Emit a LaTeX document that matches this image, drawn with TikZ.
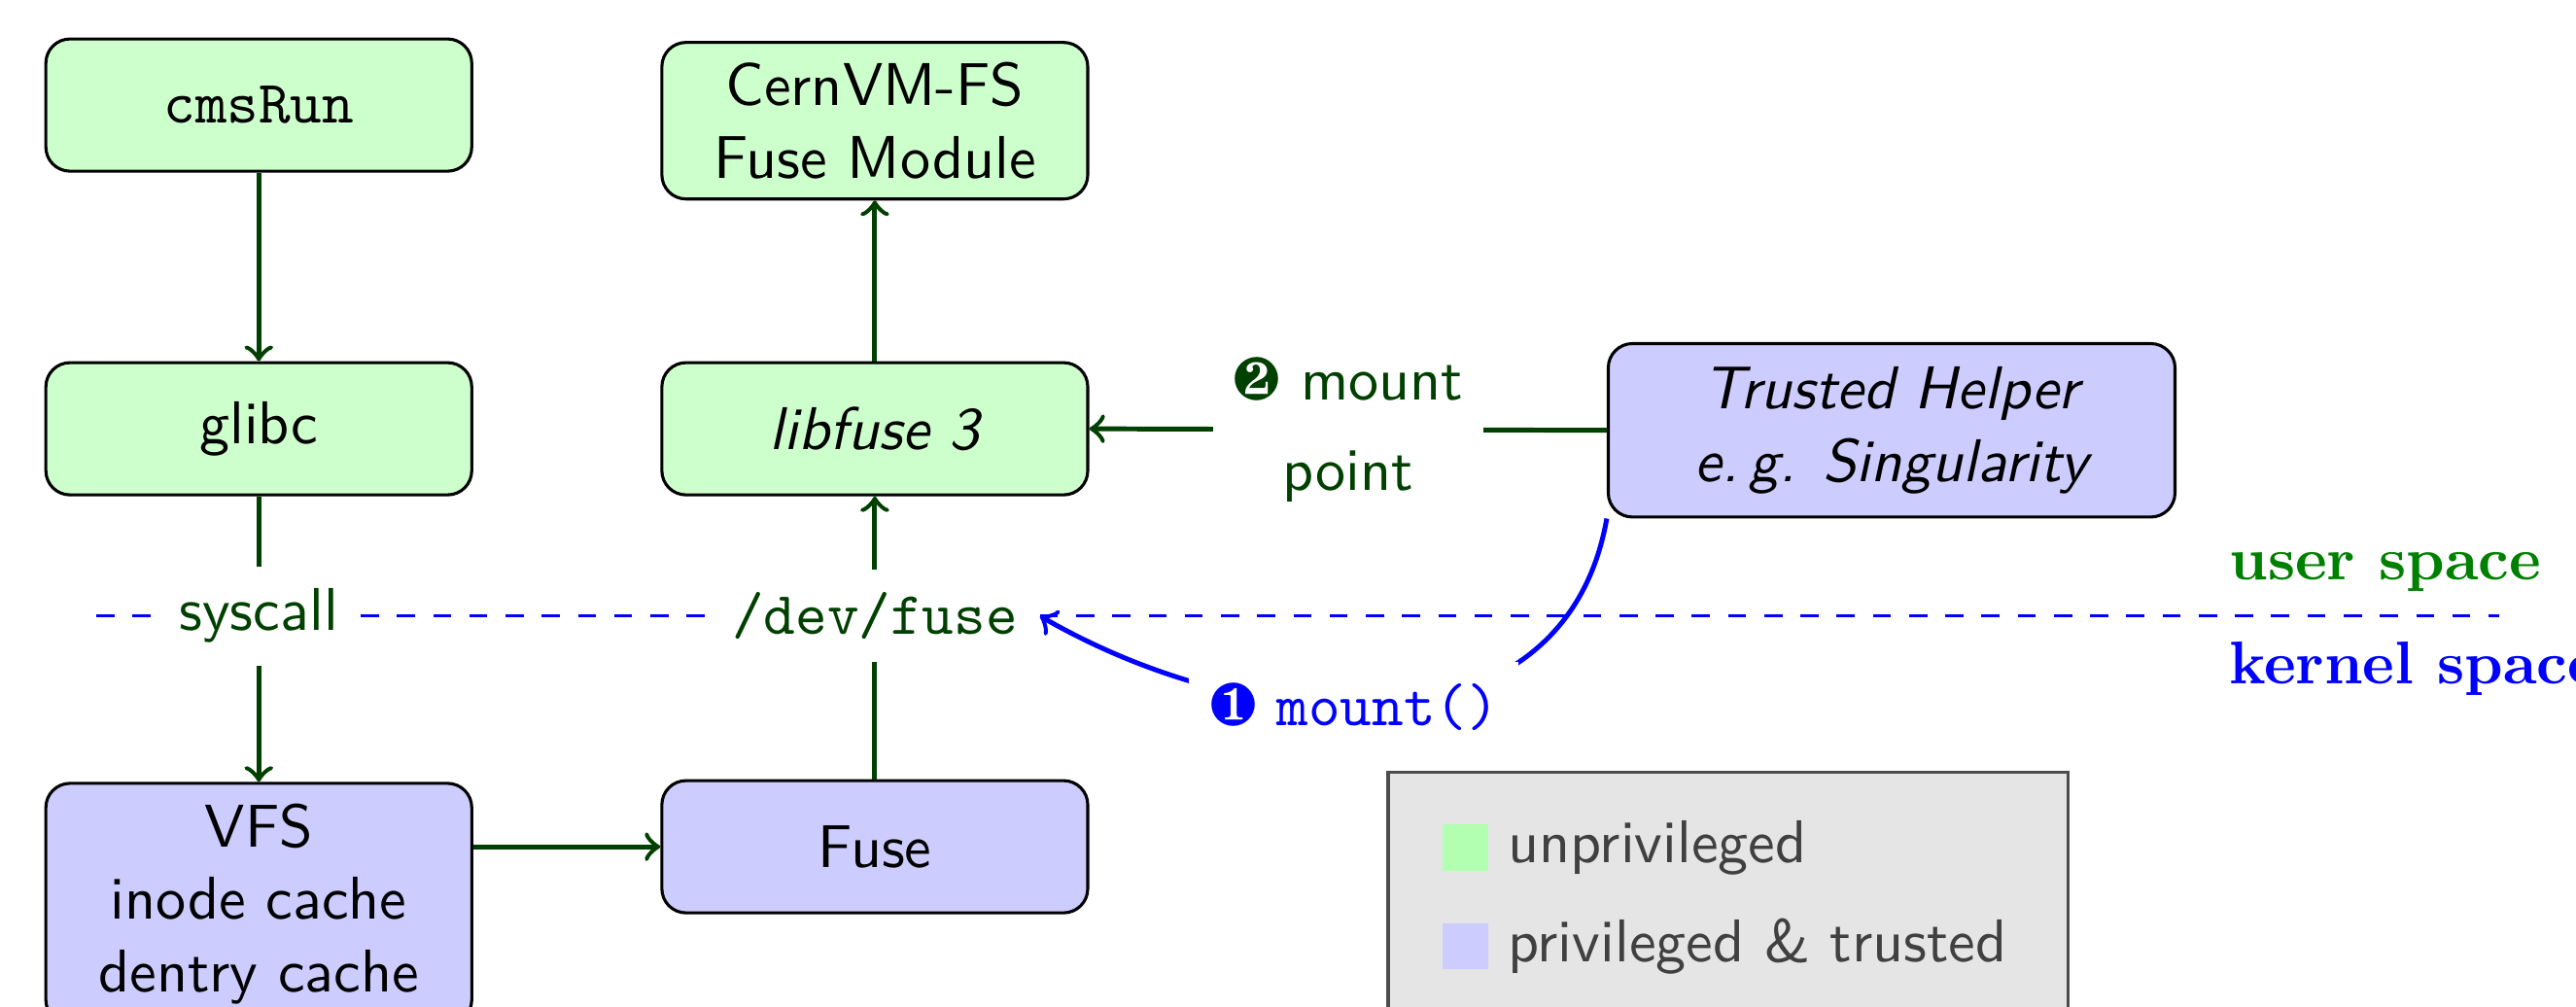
\documentclass[tikz,border=0pt]{standalone}
\usepackage{xcolor}
\usepackage{pifont}
\usepackage{tikz}

\begin{document}
\begin{tikzpicture}[thick,
	box/.style={draw=black, line width=0.5pt, rounded corners, font=\sffamily, align=center, minimum width=2.48cm, minimum height=0.77cm},
	unpriv/.style={box, fill=green!20},
	priv/.style={box, fill=blue!20},
	flow/.style={draw=green!25!black, ->},
	gate/.style={font=\sffamily, text=green!25!black},
	keybox/.style={minimum size=0.27cm, inner sep=0pt},
	keytext/.style={anchor=west, font=\sffamily, text=black!75}]
			\useasboundingbox (0,0) rectangle (15,-5.864);
			\node[unpriv] (cmsrun) at (1.507,-0.612) {\texttt{cmsRun}};
			\node[unpriv] (cvmfs) at (5.094,-0.703) {CernVM-FS\\Fuse Module};
			\node[unpriv] (glibc) at (1.507,-2.497) {glibc};
			\node[unpriv] (libfuse) at (5.094,-2.497) {\itshape libfuse 3};
			\node[priv, minimum width=3.3cm, minimum height=1.01cm] (helper) at (11.015,-2.506) {\itshape Trusted Helper\\\itshape e.\,g. Singularity};
			\node[gate] (syscall) at (1.507,-3.587) {syscall};
			\node[gate, font=\ttfamily] (devfuse) at (5.094,-3.587) {/dev/fuse};
			\node[priv, anchor=north] (vfs) at (1.507,-4.553) {VFS\\inode cache\\dentry cache};
			\node[priv] (fuse) at (5.094,-4.931) {Fuse};
			\coordinate (lineleft) at (0.56,-3.587);
			\coordinate (lineright) at (14.55,-3.587);
			\node[anchor=base west, text=green!50!black, font=\bfseries] (userspace) at (12.85,-3.378) {user space};
			\node[anchor=base west, text=blue, font=\bfseries] (kernelspace) at (12.85,-3.98) {kernel space};
			\draw[blue, line width=0.5pt, dashed] (lineleft) -- (syscall) -- (devfuse) -- (lineright);
			\draw[flow] (cmsrun) -- (glibc);
			\draw[flow] (glibc) -- (syscall) -- (vfs);
			\draw[flow] (fuse.west -| vfs.east) -- (fuse.west);
			\draw[flow] (fuse) -- (devfuse) -- (libfuse);
			\draw[flow] (libfuse) -- (cvmfs);
			\draw[flow] (helper.west) -- node[fill=white, align=center, gate] {\ding{183} mount\\[3pt]point} (libfuse.east);
			\draw[blue, ->] (helper.south west) to[out=-100, in=-30, looseness=1.1] node[pos=0.55, fill=white] {\ding{182} \texttt{mount()}} (devfuse.east);
			\node[fill=black!10, draw=black!70, line width=0.5pt, minimum width=3.96cm, minimum height=1.45cm] (legend) at (10.063,-5.22) {};
			\node[keybox, fill=green!30] (unprivkey) at (8.533,-4.936) {};
			\node[keytext] (unprivtext) at (8.65,-4.936) {unprivileged};
			\node[keybox, fill=blue!20] (privkey) at (8.533,-5.51) {};
			\node[keytext] (privtext) at (8.65,-5.51) {privileged \& trusted};
		\end{tikzpicture}
\end{document}
